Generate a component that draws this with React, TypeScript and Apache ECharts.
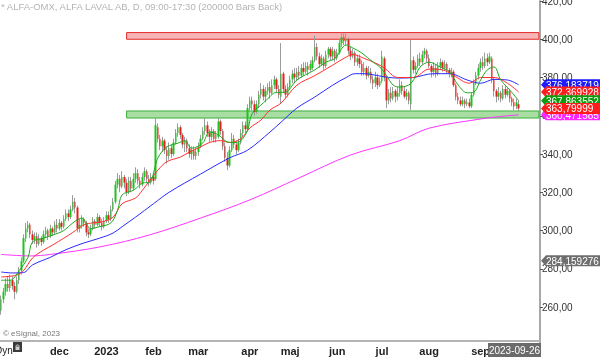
import React, { useEffect, useRef } from 'react';
import * as echarts from 'echarts';

const FONT = '"Liberation Sans", Arial, sans-serif';

// Trading calendar (Nasdaq Stockholm)
const firstSession = '2022-10-26';
const lastSlot = '2023-10-09';
const holidays = ['2022-12-26', '2023-01-06', '2023-04-07', '2023-04-10', '2023-05-01', '2023-05-18', '2023-06-06', '2023-06-23'];
const monthLabels: Record<string, string> = {
  '2022-12': 'dec', '2023-01': '2023', '2023-02': 'feb', '2023-03': 'mar', '2023-04': 'apr',
  '2023-05': 'maj', '2023-06': 'jun', '2023-07': 'jul', '2023-08': 'aug', '2023-09': 'sep',
};

// Daily candles: [open, close, low, high]
const candles: number[][] = [
  [258, 264, 256, 266], [264, 268, 262, 270], [268, 272, 266, 275], [272, 270, 268, 276], [270, 274, 268, 277],
  [274, 271, 269, 276], [271, 268, 264, 273], [268, 274, 267, 276], [274, 279, 272, 281], [279, 284, 277, 286],
  [284, 296, 283, 298], [296, 301, 294, 304], [301, 303, 299, 305], [303, 298, 296, 304], [298, 295, 293, 300],
  [295, 297, 293, 299], [297, 293, 291, 299], [293, 296, 292, 298], [296, 294, 292, 297], [294, 298, 293, 300],
  [298, 300, 296, 302], [300, 297, 295, 301], [297, 301, 296, 303], [301, 299, 297, 302], [299, 303, 298, 305],
  [303, 301, 299, 306], [301, 304, 300, 306], [304, 302, 300, 305], [302, 306, 301, 308], [306, 309, 305, 311],
  [309, 307, 305, 311], [307, 311, 306, 313], [311, 315, 310, 318.5], [315, 312, 309, 317], [312, 301, 299, 313],
  [301, 303, 299, 306], [303, 306, 301, 308], [306, 304, 302, 307], [304, 299, 297, 305], [299, 298, 296, 301],
  [298, 301, 297, 303], [301, 305, 300, 307], [305, 303, 301, 306], [303, 307, 302, 309], [307, 304, 302, 308],
  [304, 302, 300, 306], [302, 305, 301, 307], [305, 308, 304, 310], [308, 306, 304, 310], [306, 311, 305, 313],
  [311, 315, 310, 317], [315, 324, 314, 326], [324, 327, 322, 330], [327, 323, 320, 329], [323, 328, 322, 331],
  [328, 325, 322, 329], [325, 320, 318, 327], [320, 326, 319, 328], [326, 322, 320, 328], [322, 327, 321, 330],
  [327, 330, 325, 333], [330, 326, 324, 332], [326, 324, 322, 328], [324, 328, 323, 330], [328, 331, 326, 333],
  [331, 327, 325, 332], [327, 325, 323, 329], [325, 328, 324, 330], [328, 326, 324, 330], [327, 355, 326, 359],
  [354, 348, 346, 356], [348, 344, 342, 350], [344, 347, 341, 349], [347, 342, 340, 348], [342, 339, 335, 344],
  [339, 343, 337, 346], [343, 340, 338, 345], [340, 346, 339, 348], [346, 351, 345, 353], [351, 354, 349, 356],
  [354, 350, 348, 355], [350, 345, 343, 351], [345, 347, 341, 349], [347, 343, 341, 348], [343, 340, 338, 345],
  [340, 342, 337, 344], [342, 339, 337, 344], [339, 341, 337, 343], [341, 344, 339, 346], [344, 348, 343, 350],
  [348, 352, 347, 354], [352, 355, 350, 358.8], [355, 351, 349, 357], [351, 349, 346, 353], [349, 352, 347, 354],
  [352, 348, 346, 353], [348, 350, 346, 352], [349, 357, 348, 359], [357, 352, 350, 358], [352, 344, 342, 353],
  [344, 338, 336, 346], [338, 334, 331.6, 341], [334, 342, 333, 344], [342, 348, 341, 351], [348, 345, 343, 350],
  [345, 342, 340, 347], [342, 346, 341, 348], [346, 351, 345, 353], [351, 355, 349, 357], [355, 353, 351, 357],
  [353, 364, 352, 366], [364, 368, 362, 370], [368, 366, 363, 370], [366, 362, 360, 368], [362, 366, 361, 368],
  [366, 371, 364, 373], [371, 374, 369, 377], [374, 370, 368, 376], [370, 373, 367, 375], [373, 375, 371, 377],
  [375, 372, 369, 378], [372, 376, 371, 379], [376, 379, 374, 381], [379, 374, 372, 380], [374, 371, 369, 376],
  [370, 382, 366.6, 398], [382, 374, 372, 383], [374, 371, 369, 376], [371, 375, 370, 377], [375, 379, 374, 381],
  [379, 382, 377, 384], [382, 380, 377, 385], [380, 383, 378, 385], [383, 381, 379, 386], [381, 385, 380, 387],
  [385, 383, 381, 388], [383, 386, 382, 388], [386, 384, 381, 388], [384, 387, 383, 389], [385, 389, 384, 391],
  [389, 396, 388, 402], [396, 391, 389, 398], [391, 387, 385, 393], [387, 390, 386, 392], [390, 386, 384, 391],
  [386, 392, 385, 394], [392, 395, 390, 396], [395, 391, 389, 396], [391, 394, 389, 396], [394, 390, 388, 395],
  [390, 393, 389, 395], [393, 398, 392, 400], [398, 401, 396, 403.5], [401, 399, 397, 403], [399, 400, 397, 403],
  [400, 394, 392, 401], [394, 391, 389, 396], [391, 393, 390, 395], [393, 388, 386, 394], [388, 390, 386, 392],
  [390, 387, 385, 392], [387, 383, 381, 389], [383, 385, 381, 388], [385, 381, 379, 386], [381, 383, 380, 386],
  [383, 379, 377, 385], [379, 377, 374, 381], [377, 380, 375, 383], [380, 376, 374, 382], [376, 378, 375, 380],
  [378, 391, 377, 394], [390, 380, 378, 391], [380, 368, 364, 381], [368, 372, 366, 374], [372, 369, 367, 375],
  [369, 373, 368, 375], [373, 370, 367, 374], [370, 372, 368, 375], [372, 376, 370, 379], [376, 373, 371, 378],
  [373, 370, 369, 375], [370, 372, 368, 374], [372, 368, 366, 373], [366, 389, 363, 399.6], [389, 384, 382, 391],
  [384, 386, 382, 388], [386, 390, 385, 392], [390, 388, 386, 393], [388, 392, 387, 394], [392, 394, 390, 395.5],
  [394, 390, 388, 395], [390, 386, 385, 392], [386, 383, 380, 387], [383, 385, 381, 388], [385, 382, 380, 387],
  [382, 386, 381, 388], [386, 388, 384, 390], [388, 385, 383, 389], [385, 387, 384, 389], [387, 384, 382, 388],
  [384, 382, 380, 385], [382, 383, 380, 385], [383, 376, 375, 384], [376, 370, 368, 377], [370, 368, 366, 372],
  [368, 366, 365, 370], [366, 368, 365, 370], [368, 366, 364, 369], [366, 367, 365, 369], [367, 365, 364, 369],
  [365, 371, 364, 372], [371, 377, 370, 379], [377, 381, 376, 383], [381, 385, 379, 387], [385, 388, 383, 390],
  [388, 386, 384, 391], [386, 390, 385, 393], [390, 388, 386, 392.5], [388, 391, 387, 393], [390, 379, 377, 391],
  [379, 373, 370, 380], [373, 370, 367, 374], [370, 372, 368, 375], [372, 369, 367, 373], [369, 374, 368, 376],
  [374, 371, 369, 376], [371, 373, 370, 375], [373, 369, 367, 374], [369, 367, 365, 370], [367, 365, 363, 369],
  [365, 367, 363.5, 369], [366, 363.8, 362.5, 368],
];

// Moving averages: [session index, value]
const maGreen: number[][] = [
  [0, 274], [4, 274], [8, 279], [12, 286], [14, 294], [19, 296], [23, 297.6], [28, 300], [32, 304], [36, 306.5],
  [40, 301], [44, 302], [49, 304], [52, 310.7], [54, 318.6], [59, 321], [64, 325], [66, 325], [70, 338], [74, 343.7],
  [79, 345.7], [82, 347], [85, 343], [90, 345.8], [93, 351.5], [97, 350], [101, 346.3], [104, 346], [107, 347],
  [110, 352.5], [112, 361], [117, 366.7], [120, 370], [122, 372], [127, 372.4], [132, 378.7], [140, 384], [145, 388],
  [149, 390], [154, 397], [157, 395.4], [161, 392.8], [166, 388], [169, 385.5], [172, 381], [175, 376], [178, 375],
  [183, 377], [187, 385.5], [191, 388], [196, 385.5], [200, 383], [204, 376], [208, 372], [211, 372.4], [214, 378.7],
  [217, 384], [220, 385.5], [223, 378.7], [227, 373.5], [231, 367.86],
];
const maRed: number[][] = [
  [0, 275.7], [7, 276.7], [10, 279], [14, 285.6], [19, 289.8], [23, 292.4], [28, 296], [32, 299], [37, 303], [41, 304],
  [45, 304.5], [50, 307], [54, 314], [60, 317], [63, 321], [70, 331.6], [74, 336], [80, 338.4], [84, 341], [89, 343.7],
  [93, 346], [98, 347], [102, 346], [107, 348], [111, 353.6], [116, 357.8], [120, 363], [125, 366.7], [132, 376],
  [140, 381], [148, 386.5], [154, 390.7], [157, 392], [162, 390], [167, 387.6], [171, 385], [177, 380], [184, 380],
  [191, 384.4], [197, 384], [202, 381], [209, 377], [214, 380], [220, 380], [226, 377], [231, 372.37],
];
const maBlue: number[][] = [
  [0, 278.3], [5, 277.8], [10, 278], [14, 282], [22, 286], [29, 290], [37, 293.5], [44, 296], [50, 298.7], [54, 302],
  [60, 307], [68, 314], [75, 320], [89, 329.5], [102, 338], [110, 342], [120, 351.5], [125, 356.7], [132, 364],
  [140, 369.8], [148, 376], [154, 380], [158, 382], [162, 382], [168, 381], [173, 380], [178, 379.7], [184, 380],
  [193, 382], [200, 382], [208, 378.7], [214, 377], [220, 379], [226, 378.7], [231, 376.18],
];
const maMagenta: number[][] = [
  [0, 287.5], [13, 286.7], [22, 287.5], [44, 291.4], [66, 297.6], [89, 306.5], [111, 316], [133, 327.5],
  [156, 339.5], [178, 347], [191, 353.5], [215, 358.5], [223, 359.6], [231, 360.47],
];

// Horizontal zones (price ranges) and the session where they start
const zoneStart = 56;
const resistanceZone = [400, 403.5];
const supportZone = [358.8, 362.5];

// Right-edge value tags
const tagValues = [376.183719, 372.369928, 367.863552, 360.471585, 363.79999, 284.159276];
const tagColors = ['#1c1cff', '#ff1c1c', '#0c9c0c', '#ff24ff', '#ff1c1c', '#6e6e6e'];

const titleText = '* ALFA-OMX, ALFA LAVAL AB, D, 09:00-17:30 (200000 Bars Back)';
const lastDateText = '2023-09-26';

function buildSessions(): string[] {
  const out: string[] = [];
  const d = new Date(firstSession + 'T00:00:00Z');
  const end = new Date(lastSlot + 'T00:00:00Z');
  while (d <= end) {
    const wd = d.getUTCDay();
    const s = d.toISOString().slice(0, 10);
    if (wd !== 0 && wd !== 6 && !holidays.includes(s)) out.push(s);
    d.setUTCDate(d.getUTCDate() + 1);
  }
  return out;
}

export default function App() {
  const ref = useRef<HTMLDivElement>(null);
  useEffect(() => {
    const chart = echarts.init(ref.current as HTMLDivElement, null, { renderer: 'svg' });
    const cats = buildSessions();
    const monthStart = new Set<number>();
    let prev = '';
    cats.forEach((c, i) => {
      const m = c.slice(0, 7);
      if (m !== prev) {
        prev = m;
        if (monthLabels[m]) monthStart.add(i);
      }
    });
    const last = cats.length - 1;
    const bodies = candles.map(([o, c]) => [o, c, Math.min(o, c), Math.max(o, c)]);
    const ma = (data: number[][], color: string) => ({
      type: 'line',
      data,
      showSymbol: false,
      smooth: 0.35,
      silent: true,
      z: 4,
      lineStyle: { color, width: 1 },
      itemStyle: { color },
    });

    chart.setOption({
      animation: false,
      grid: { left: 0, right: 60, top: 1, bottom: 11.75, containLabel: false, outerBoundsMode: 'none' },
      xAxis: {
        type: 'category',
        data: cats,
        boundaryGap: true,
        offset: -4.25,
        axisLine: { lineStyle: { color: '#b4b4b4', width: 2 } },
        axisTick: {
          alignWithLabel: true,
          length: 3,
          interval: (i: number) => monthStart.has(i),
          lineStyle: { color: '#888' },
        },
        axisLabel: {
          interval: (i: number) => monthStart.has(i),
          formatter: (v: string) => monthLabels[v.slice(0, 7)] || '',
          fontFamily: FONT,
          fontWeight: 'bold',
          fontSize: 11,
          color: '#222',
          margin: 4,
        },
        splitLine: { show: false },
      },
      yAxis: {
        type: 'value',
        position: 'right',
        min: 240,
        max: 420,
        interval: 20,
        axisLine: { show: true, lineStyle: { color: '#a8a8a8', width: 2 } },
        axisTick: { show: true, length: 3, lineStyle: { color: '#555' } },
        axisLabel: {
          showMinLabel: false,
          formatter: (v: number) => v.toFixed(2).replace('.', ','),
          fontFamily: FONT,
          fontSize: 10,
          color: '#333',
          margin: 2,
        },
        splitLine: { show: false },
      },
      series: [
        {
          type: 'line',
          data: [],
          z: 1,
          silent: true,
          markArea: {
            silent: true,
            data: [
              [
                { xAxis: cats[zoneStart], yAxis: resistanceZone[0], itemStyle: { color: '#f8b4b4', borderColor: '#e52e2e', borderWidth: 1 } },
                { xAxis: cats[last], yAxis: resistanceZone[1] },
              ],
              [
                { xAxis: cats[zoneStart], yAxis: supportZone[0], itemStyle: { color: '#a9dea3', borderColor: '#3cae3c', borderWidth: 1 } },
                { xAxis: cats[last], yAxis: supportZone[1] },
              ],
            ],
          },
        },
        {
          type: 'candlestick',
          data: candles,
          barWidth: 1,
          z: 2,
          silent: true,
          itemStyle: { color: '#9c9c9c', color0: '#9c9c9c', borderColor: '#9c9c9c', borderColor0: '#9c9c9c', borderWidth: 1 },
        },
        {
          type: 'candlestick',
          data: bodies,
          barWidth: 2,
          z: 3,
          silent: true,
          itemStyle: { color: '#1fc21f', color0: '#e41e1e', borderColor: '#1fc21f', borderColor0: '#e41e1e', borderWidth: 0 },
        },
        ma(maMagenta, '#ff33ff'),
        ma(maBlue, '#2a2aff'),
        ma(maRed, '#ff3030'),
        ma(maGreen, '#1fa81f'),
      ],
    });

    const g: any[] = [
      { type: 'text', z: 50, style: { text: titleText, x: 1, y: 6, verticalAlign: 'middle', fill: '#b4b4b4', font: `9.5px ${FONT}` } },
      { type: 'text', z: 50, style: { text: '© eSignal, 2023', x: 3, y: 333, verticalAlign: 'middle', fill: '#777', font: `8px ${FONT}` } },
      { type: 'text', z: 50, style: { text: 'Dyn', x: -5, y: 350, verticalAlign: 'middle', fill: '#222', font: `10px ${FONT}` } },
      { type: 'rect', z: 50, shape: { x: 13, y: 342, width: 9, height: 10 }, style: { fill: '#3a3a3a' } },
      { type: 'rect', z: 51, shape: { x: 15.5, y: 346.5, width: 4, height: 3.5 }, style: { fill: '#cfcfcf' } },
      { type: 'arc', z: 51, shape: { cx: 17.5, cy: 346.5, r: 1.6, startAngle: Math.PI, endAngle: 2 * Math.PI }, style: { stroke: '#cfcfcf', fill: 'none', lineWidth: 1 } },
      { type: 'rect', z: 50, shape: { x: 488, y: 343, width: 53, height: 14 }, style: { fill: '#6b6b6b' } },
      { type: 'text', z: 51, style: { text: lastDateText, x: 514.5, y: 350.5, align: 'center', verticalAlign: 'middle', fill: '#fff', font: `10px ${FONT}` } },
    ];
    tagValues.forEach((v, k) => {
      const y = chart.convertToPixel({ yAxisIndex: 0 }, v) as number;
      g.push({
        type: 'polygon',
        z: 60 + k * 2,
        shape: { points: [[541, y], [546, y - 5.5], [600, y - 5.5], [600, y + 5.5], [546, y + 5.5]] },
        style: { fill: tagColors[k] },
      });
      g.push({
        type: 'text',
        z: 61 + k * 2,
        style: { text: String(v).replace('.', ','), x: 546, y: y + 0.5, verticalAlign: 'middle', fill: '#fff', font: `10px ${FONT}` },
      });
    });
    chart.setOption({ graphic: g });

    return () => chart.dispose();
  }, []);
  return <div ref={ref} style={{ position: 'fixed', left: 0, top: 0, width: 600, height: 357 }} />;
}
